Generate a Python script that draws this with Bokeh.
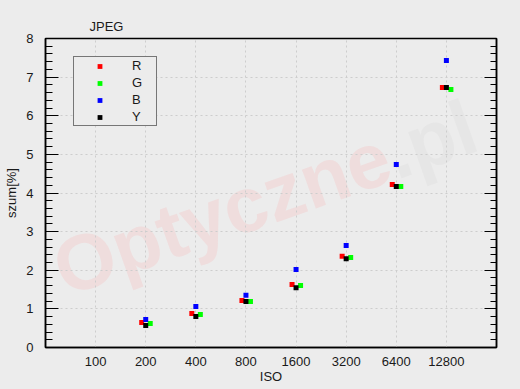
from bokeh.plotting import figure
from bokeh.models import (ColumnDataSource, FixedTicker, SingleIntervalTicker, LinearAxis,
                          Range1d, Legend, LegendItem, Label, CustomJSTickFormatter)
from bokeh.transform import dodge
from bokeh.embed import file_html
from bokeh.resources import INLINE

# ---- data ----
iso_labels = ["100", "200", "400", "800", "1600", "3200", "6400", "12800"]
iso = ["200", "400", "800", "1600", "3200", "6400", "12800"]
noise_R = [0.65, 0.88, 1.22, 1.63, 2.36, 4.22, 6.73]
noise_G = [0.62, 0.855, 1.19, 1.605, 2.33, 4.17, 6.68]
noise_B = [0.725, 1.06, 1.35, 2.02, 2.64, 4.74, 7.43]
noise_Y = [0.57, 0.80, 1.19, 1.55, 2.30, 4.17, 6.73]

BG = "#ececec"
FONT = "Liberation Sans"
TXT = "#1a1a1a"

src = ColumnDataSource(dict(
    x=[iso_labels.index(v) for v in iso],
    R=noise_R, G=noise_G, B=noise_B, Y=noise_Y,
))

p = figure(width=520, height=389, output_backend="svg", toolbar_location=None,
           x_range=Range1d(-1, 8), y_range=Range1d(0, 8),
           background_fill_color=BG, border_fill_color=BG,
           min_border_left=45, min_border_right=24, min_border_top=38, min_border_bottom=42)

p.outline_line_color = "black"
p.outline_line_width = 1.5

# title
p.title.text = "JPEG"
p.title.align = "left"
p.title.offset = 44
p.title.text_font = FONT
p.title.text_font_size = "13px"
p.title.text_font_style = "normal"
p.title.text_color = TXT

# x axis
xa = p.xaxis[0]
xa.ticker = FixedTicker(ticks=list(range(len(iso_labels))))
xa.major_label_overrides = {i: s for i, s in enumerate(iso_labels)}
xa.major_tick_in = 0
xa.major_tick_out = 0
xa.minor_tick_in = 0
xa.minor_tick_out = 0
xa.axis_line_color = "black"
xa.axis_line_width = 1.5
xa.major_label_standoff = 9
xa.major_label_text_font = FONT
xa.major_label_text_font_size = "13px"
xa.major_label_text_color = TXT
xa.axis_label = "ISO"
xa.axis_label_text_font = FONT
xa.axis_label_text_font_size = "13px"
xa.axis_label_text_font_style = "normal"
xa.axis_label_text_color = TXT
xa.axis_label_standoff = 0

# y axis
ya = p.yaxis[0]
ya.ticker = SingleIntervalTicker(interval=1, num_minor_ticks=5)
ya.major_tick_in = 13
ya.major_tick_out = 0
ya.minor_tick_in = 7
ya.minor_tick_out = 0
ya.major_tick_line_color = "black"
ya.minor_tick_line_color = "black"
ya.axis_line_color = "black"
ya.axis_line_width = 1.5
ya.major_label_standoff = 12
ya.major_label_text_font = FONT
ya.major_label_text_font_size = "13px"
ya.major_label_text_color = TXT
ya.axis_label = "szum[%]"
ya.axis_label_text_font = FONT
ya.axis_label_text_font_size = "13px"
ya.axis_label_text_font_style = "normal"
ya.axis_label_text_color = TXT
ya.axis_label_standoff = 4

# right axis: ticks only
ra = LinearAxis(ticker=SingleIntervalTicker(interval=1, num_minor_ticks=5),
                formatter=CustomJSTickFormatter(code="return ''"),
                major_tick_in=12, major_tick_out=0, minor_tick_in=6, minor_tick_out=0,
                major_tick_line_color="black", minor_tick_line_color="black",
                axis_line_color="black", axis_line_width=1.5, major_label_standoff=0)
p.add_layout(ra, "right")

# grids
p.xgrid.ticker = FixedTicker(ticks=list(range(len(iso_labels))))
for g in (p.xgrid[0], p.ygrid[0]):
    g.grid_line_color = "#cdcdcd"
    g.grid_line_dash = "2 3"
    g.grid_line_width = 1
    g.level = "underlay"

# watermark
wm1 = Label(x=11, y=76, x_units="screen", y_units="screen", text="Optyczne",
            angle=19.5, angle_units="deg", text_font=FONT, text_font_style="bold",
            text_font_size="78px", text_color="#efdddd", text_alpha=1.0,
            text_baseline="alphabetic", text_align="left", level="image")
wm2 = Label(x=342, y=193, x_units="screen", y_units="screen", text=".pl",
            angle=19.5, angle_units="deg", text_font=FONT, text_font_style="bold",
            text_font_size="78px", text_color="#e6e6e6", text_alpha=1.0,
            text_baseline="alphabetic", text_align="left", level="image",
            border_line_color=None)
p.add_layout(wm1)
p.add_layout(wm2)

# data
series = [("R", "#ff0000", -0.08), ("G", "#00ff00", 0.09), ("B", "#0000ff", 0.0), ("Y", "#000000", 0.0)]
items = []
for name, color, off in series:
    r = p.scatter(x=dodge("x", off, range=p.x_range), y=name, source=src, marker="square",
                  size=5, fill_color=color, line_color=None)
    items.append(LegendItem(label=name, renderers=[r]))

legend = Legend(items=items, location=(28, 221), padding=0, spacing=0, margin=0,
                glyph_width=51, glyph_height=12, label_height=17, label_width=24,
                label_standoff=7, label_text_font=FONT, label_text_font_size="13px",
                label_text_color=TXT, border_line_color="black", border_line_width=1.3,
                background_fill_color=BG, background_fill_alpha=1.0)
p.add_layout(legend)

html = file_html(p, INLINE)
html = html.replace("</head>", "<style>html,body{background:#ececec;margin:0;padding:0;}</style></head>", 1)
open("out.html", "w").write(html)
